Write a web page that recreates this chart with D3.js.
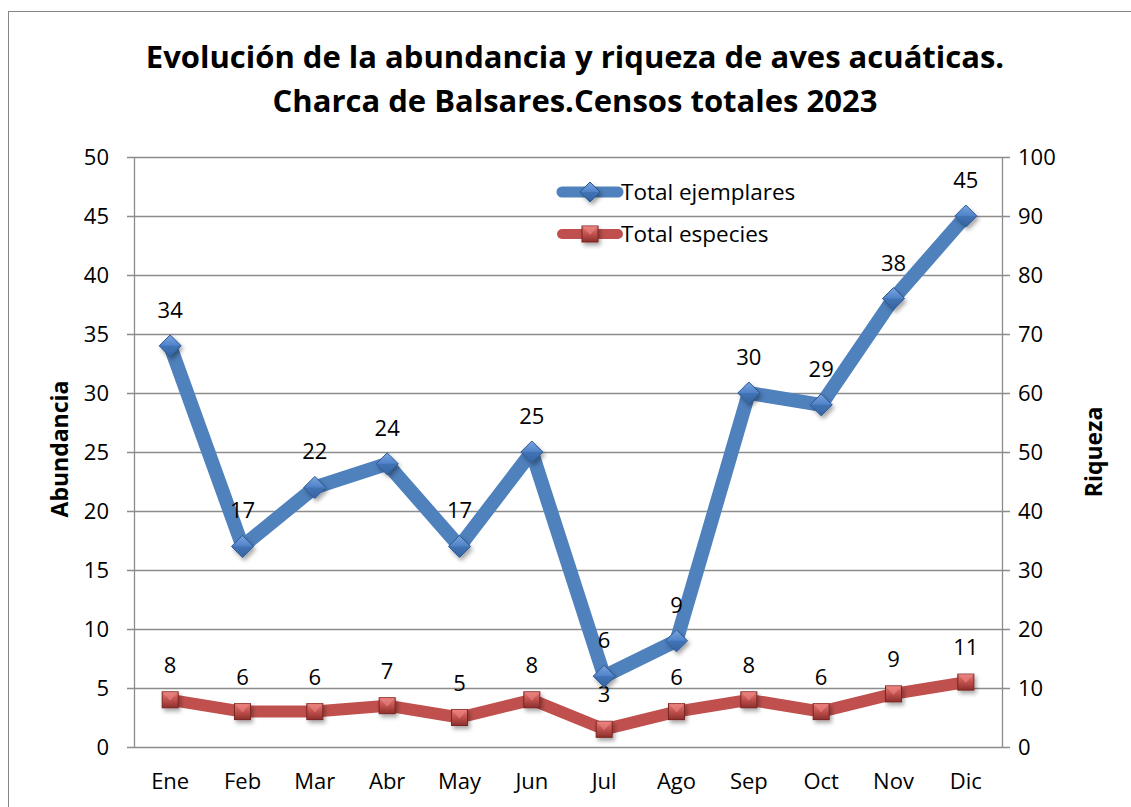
<!DOCTYPE html>
<html><head><meta charset="utf-8">
<script src="https://cdn.jsdelivr.net/npm/d3@7"></script>
<style>body{margin:0;background:#fff}svg{display:block}text{font-family:"Open Sans",sans-serif}</style>
</head><body><svg id="c" width="1131" height="807"></svg>
<script>
const months = ["Ene","Feb","Mar","Abr","May","Jun","Jul","Ago","Sep","Oct","Nov","Dic"];
const ejemplares = [34,17,22,24,17,25,6,9,30,29,38,45];
const especies = [8,6,6,7,5,8,3,6,8,6,9,11];
const leftTicks = [0,5,10,15,20,25,30,35,40,45,50];
const rightTicks = [0,10,20,30,40,50,60,70,80,90,100];

const svg = d3.select("#c");
const m={l:134,r:1002,t:157,b:747};
const defs = svg.append("defs");
const gb = defs.append("linearGradient").attr("id","gb").attr("x1",0).attr("y1",0).attr("x2",0).attr("y2",1);
gb.append("stop").attr("offset","0").attr("stop-color","#7aa6e0");
gb.append("stop").attr("offset","0.5").attr("stop-color","#4f81c8");
gb.append("stop").attr("offset","1").attr("stop-color","#2f5c99");
const gr = defs.append("linearGradient").attr("id","gr").attr("x1",0).attr("y1",0).attr("x2",0).attr("y2",1);
gr.append("stop").attr("offset","0").attr("stop-color","#e57a77");
gr.append("stop").attr("offset","0.5").attr("stop-color","#c0504d");
gr.append("stop").attr("offset","1").attr("stop-color","#8c2f2c");
const sh = defs.append("filter").attr("id","sh").attr("x","-50%").attr("y","-50%").attr("width","200%").attr("height","200%");
sh.append("feDropShadow").attr("dx",2).attr("dy",3).attr("stdDeviation",2).attr("flood-color","#000").attr("flood-opacity",0.35);

svg.append("rect").attr("x",8.5).attr("y",11.5).attr("width",1135).attr("height",810).attr("fill","#fff").attr("stroke","#868686").attr("stroke-width",1);

const x = d3.scaleBand().domain(months).range([m.l,m.r]);
const yL = d3.scaleLinear().domain([0,50]).range([m.b,m.t]);
const yR = d3.scaleLinear().domain([0,100]).range([m.b,m.t]);

// gridlines
svg.append("g").selectAll("line").data(leftTicks).join("line")
  .attr("x1",m.l-7).attr("x2",m.r+8).attr("y1",d=>Math.round(yL(d))+0.5).attr("y2",d=>Math.round(yL(d))+0.5)
  .attr("stroke","#8c8c8c").attr("stroke-width",1.3);
svg.append("line").attr("x1",m.l+0.5).attr("x2",m.l+0.5).attr("y1",m.t).attr("y2",m.b).attr("stroke","#8c8c8c").attr("stroke-width",1.3);
svg.append("line").attr("x1",m.r+0.5).attr("x2",m.r+0.5).attr("y1",m.t).attr("y2",m.b+1).attr("stroke","#8c8c8c").attr("stroke-width",1.3);

// axes labels
const axL = svg.append("g").attr("transform",`translate(${m.l-25},0)`).call(d3.axisLeft(yL).tickValues(leftTicks).tickSize(0).tickPadding(0));
axL.select(".domain").remove();
axL.selectAll("text").attr("font-size",22).attr("fill","#000").attr("font-family","'Open Sans',sans-serif").attr("dy","0.35em");
const axR = svg.append("g").attr("transform",`translate(${m.r+16},0)`).call(d3.axisRight(yR).tickValues(rightTicks).tickSize(0).tickPadding(0));
axR.select(".domain").remove();
axR.selectAll("text").attr("font-size",22).attr("fill","#000").attr("font-family","'Open Sans',sans-serif").attr("dy","0.35em");
const axB = svg.append("g").attr("transform",`translate(0,${m.b+27})`).call(d3.axisBottom(x).tickSize(0).tickPadding(0));
axB.select(".domain").remove();
axB.selectAll("text").attr("font-size",22).attr("fill","#000").attr("font-family","'Open Sans',sans-serif").attr("dy","0.7em");

// titles
svg.append("text").attr("x",575).attr("y",68).attr("text-anchor","middle").attr("font-size",31).attr("font-weight","bold").text("Evolución de la abundancia y riqueza de aves acuáticas.");
svg.append("text").attr("x",575).attr("y",112).attr("text-anchor","middle").attr("font-size",31).attr("font-weight","bold").text("Charca de Balsares.Censos totales 2023");
svg.append("text").attr("transform",`translate(68,449) rotate(-90)`).attr("text-anchor","middle").attr("font-size",23).attr("font-weight","bold").attr("font-family","'Liberation Sans',Arial,sans-serif").text("Abundancia");
svg.append("text").attr("transform",`translate(1102,452) rotate(-90)`).attr("text-anchor","middle").attr("font-size",23).attr("font-weight","bold").attr("font-family","'Liberation Sans',Arial,sans-serif").text("Riqueza");

const cx = d=>x(d)+x.bandwidth()/2;
const lineL = d3.line().x((d,i)=>cx(months[i])).y(d=>yL(d));
const lineR = d3.line().x((d,i)=>cx(months[i])).y(d=>yR(d));

function diamond(g,px,py,s){
  g.append("path").attr("d",`M${px},${py-s}L${px+s},${py}L${px},${py+s}L${px-s},${py}Z`).attr("fill","url(#gb)").attr("stroke","#2c5790").attr("stroke-width",1).attr("filter","url(#sh)");
  g.append("path").attr("d",`M${px-s},${py}L${px},${py}L${px+s},${py}L${px},${py+s}Z`).attr("fill","#3a6aa8").attr("opacity",0.6);
}
function square(g,px,py,s){
  g.append("rect").attr("x",px-s).attr("y",py-s).attr("width",2*s).attr("height",2*s).attr("fill","url(#gr)").attr("stroke","#7a2522").attr("stroke-width",1).attr("filter","url(#sh)");
  g.append("path").attr("d",`M${px-s},${py-s}L${px},${py+1}L${px+s},${py-s}Z`).attr("fill","#f08a86").attr("opacity",0.55);
}

// red series
svg.append("path").datum(especies).attr("d",lineR).attr("fill","none").attr("stroke","#c0504d").attr("stroke-width",12).attr("stroke-linejoin","round");
const gR = svg.append("g");
especies.forEach((v,i)=>square(gR,cx(months[i]),yR(v),8));
svg.append("g").selectAll("text").data(especies).join("text")
  .attr("x",(d,i)=>cx(months[i])).attr("y",d=>yR(d)-27).attr("text-anchor","middle").attr("font-size",22).text(d=>d);

// blue series
svg.append("path").datum(ejemplares).attr("d",lineL).attr("fill","none").attr("stroke","#4f81bd").attr("stroke-width",14).attr("stroke-linejoin","round");
const gB = svg.append("g");
ejemplares.forEach((v,i)=>diamond(gB,cx(months[i]),yL(v),11));
svg.append("g").selectAll("text").data(ejemplares).join("text")
  .attr("x",(d,i)=>cx(months[i])).attr("y",d=>yL(d)-28).attr("text-anchor","middle").attr("font-size",22).text(d=>d);

// legend
const lg = svg.append("g");
lg.append("line").attr("x1",562).attr("x2",618).attr("y1",192).attr("y2",192).attr("stroke","#4f81bd").attr("stroke-width",11).attr("stroke-linecap","round");
diamond(lg,590,192,10);
lg.append("text").attr("x",621).attr("y",200).attr("font-size",22.5).text("Total ejemplares");
lg.append("line").attr("x1",562).attr("x2",618).attr("y1",234).attr("y2",234).attr("stroke","#c0504d").attr("stroke-width",10).attr("stroke-linecap","round");
square(lg,590,234,8);
lg.append("text").attr("x",621).attr("y",242).attr("font-size",22.5).text("Total especies");
</script></body></html>
